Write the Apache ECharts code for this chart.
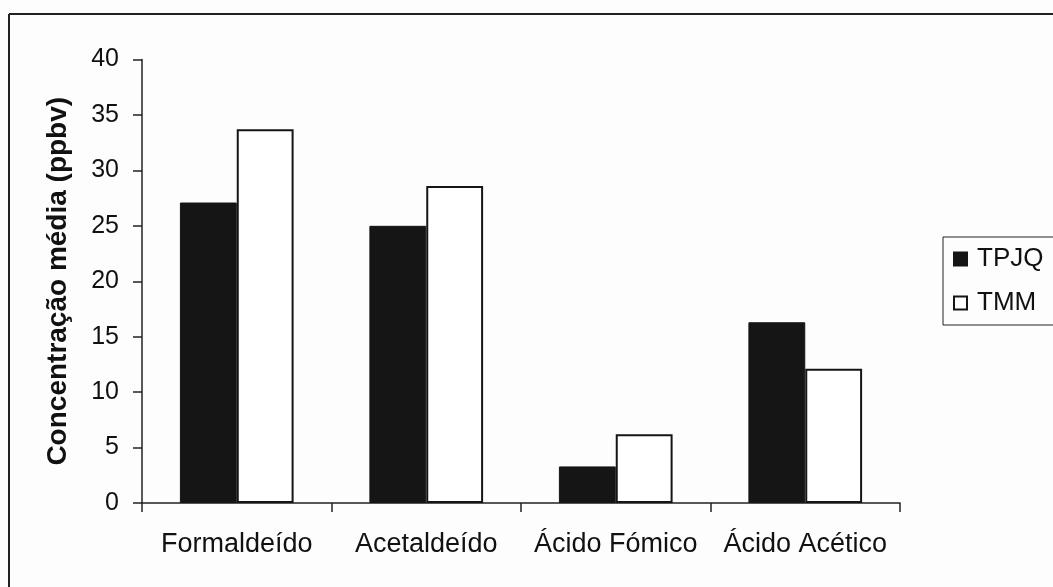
<!DOCTYPE html>
<html>
<head>
<meta charset="utf-8">
<script src="https://cdn.jsdelivr.net/npm/echarts@6/dist/echarts.min.js"></script>
<style>
  html, body { margin: 0; padding: 0; background: #fdfdfd; }
  #chart { width: 1053px; height: 587px; }
</style>
</head>
<body>
<div id="chart"></div>
<script>
// Compounds measured
const categories = ['Formaldeído', 'Acetaldeído', 'Ácido Fómico', 'Ácido Acético'];
// Mean concentrations (ppbv) at each site
const tpjq = [27.1, 25.0, 3.3, 16.3];
const tmm = [33.7, 28.6, 6.2, 12.1];
// Value axis range
const yMin = 0, yMax = 40, yStep = 5;

const font = '"Liberation Sans", Arial, sans-serif';
const chart = echarts.init(document.getElementById('chart'), null, { renderer: 'canvas' });

chart.setOption({
  backgroundColor: '#fdfdfd',
  animation: false,
  textStyle: { fontFamily: font, color: '#111' },
  grid: { left: 142, top: 59.5, right: 153, bottom: 84, containLabel: false },
  legend: {
    orient: 'vertical',
    left: 943,
    top: 237,
    data: ['TPJQ', 'TMM'],
    icon: 'rect',
    itemWidth: 13,
    itemHeight: 13,
    itemGap: 18,
    padding: [9, 40, 9, 10],
    borderColor: '#222',
    borderWidth: 1,
    textStyle: { fontFamily: font, fontSize: 26, color: '#111', padding: [0, 0, 0, 5] }
  },
  xAxis: {
    type: 'category',
    data: categories,
    axisLine: { lineStyle: { color: '#222', width: 1.5 } },
    axisTick: { show: true, length: 9, lineStyle: { color: '#222', width: 1.5 } },
    axisLabel: { fontFamily: font, fontSize: 27, color: '#111', margin: 28, interval: 0 }
  },
  yAxis: {
    type: 'value',
    min: yMin,
    max: yMax,
    interval: yStep,
    name: 'Concentração média (ppbv)',
    nameLocation: 'middle',
    nameGap: 70,
    nameTextStyle: { fontFamily: font, fontSize: 28, fontWeight: 'bold', color: '#111' },
    axisLine: { show: true, lineStyle: { color: '#222', width: 1.5 } },
    axisTick: { show: true, length: 9, lineStyle: { color: '#222', width: 1.5 } },
    splitLine: { show: false },
    axisLabel: { fontFamily: font, fontSize: 25, color: '#111', margin: 23 }
  },
  series: [
    {
      name: 'TPJQ',
      type: 'bar',
      data: tpjq,
      barGap: '0%',
      barCategoryGap: '40%',
      itemStyle: { color: '#151515', borderColor: '#151515', borderWidth: 1 }
    },
    {
      name: 'TMM',
      type: 'bar',
      data: tmm,
      barGap: '0%',
      barCategoryGap: '40%',
      itemStyle: { color: '#ffffff', borderColor: '#151515', borderWidth: 2 }
    }
  ],
  graphic: [
    { type: 'line', shape: { x1: 9, y1: 14, x2: 1053, y2: 14 }, style: { stroke: '#222', lineWidth: 2 } },
    { type: 'line', shape: { x1: 9, y1: 14, x2: 9, y2: 587 }, style: { stroke: '#222', lineWidth: 2 } }
  ]
});
</script>
</body>
</html>
